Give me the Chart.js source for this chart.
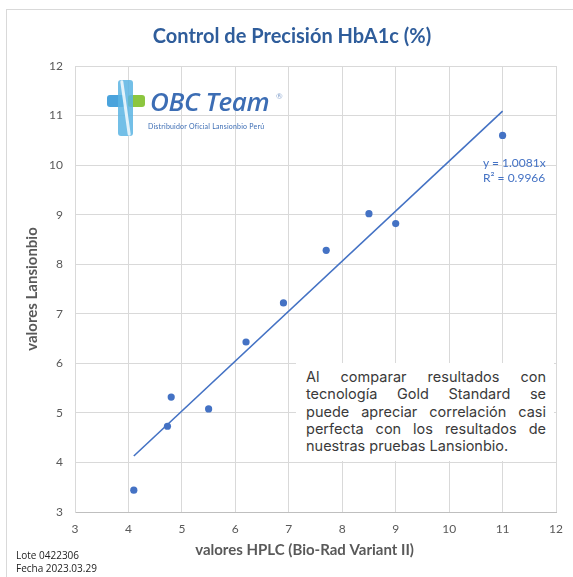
<!DOCTYPE html>
<html lang="es">
<head>
<meta charset="utf-8">
<title>Control de Precisión HbA1c (%)</title>
<script src="https://cdn.jsdelivr.net/npm/chart.js@4.4.1/dist/chart.umd.min.js"></script>
<style>
  body { margin: 0; background: #fff; }
  #wrap { position: relative; width: 573px; height: 577px; overflow: hidden; font-family: Lato, sans-serif; }
  #frame { position: absolute; left: 6px; top: 9px; width: 620px; height: 620px; border: 1px solid #d9d9d9; }
  #chart { position: absolute; left: 0; top: 0; }
  #title { position: absolute; left: 0; width: 584px; top: 23px; text-align: center;
    font-weight: bold; font-size: 20px; line-height: 24px; color: #2f5d9b; }
  #logo { position: absolute; left: 104px; top: 78px; width: 200px; height: 60px; }
  .bar { position: absolute; border-radius: 3px; }
  #logo-name { position: absolute; left: 46px; top: 5px; font-style: italic; font-weight: 600; font-size: 26px;
    color: #3c6db4; font-family: "Open Sans", sans-serif; letter-spacing: -0.4px; }
  #logo-reg { position: absolute; left: 172px; top: 13px; font-size: 8px; color: #8aa6cf; }
  #logo-sub { position: absolute; left: 44px; top: 44px; font-size: 7px; color: #3c6db4; letter-spacing: 0.2px; }
  #eq { position: absolute; left: 483px; top: 155px; font-size: 12px; line-height: 15px; color: #4472c4; }
  #note { position: absolute; left: 296px; top: 363px; width: 258px; height: 98px; background: #fff;
    padding: 5px 0 0 10px; box-sizing: border-box; }
  #note div { width: 240px; text-align: justify; text-align-last: justify;
    font-family: Inter, sans-serif; font-size: 14.5px; line-height: 17.3px; color: #3a3a3a; }
  #note div.last { text-align-last: left; }
  #lote { position: absolute; left: 16px; top: 549px; font-size: 10px; line-height: 13px; color: #222;
    font-family: "Open Sans", sans-serif; }
</style>
</head>
<body>
<div id="wrap">
  <div id="frame"></div>
  <canvas id="chart" width="573" height="577"></canvas>
  <div id="title">Control de Precisión HbA1c (%)</div>
  <div id="logo">
    <div class="bar" style="left:3px;top:17px;width:18px;height:12px;background:#4aa3dc;"></div>
    <div class="bar" style="left:24px;top:17px;width:17px;height:12px;background:#8cc63f;"></div>
    <div class="bar" style="left:14px;top:2px;width:15px;height:56px;background:#5ab4e3;opacity:0.85;"></div>
    <div class="bar" style="left:20px;top:2px;width:3px;height:56px;background:#fff;transform:rotate(-8deg);opacity:0.8;"></div>
    <div id="logo-name">OBC Team</div>
    <div id="logo-reg">®</div>
    <div id="logo-sub">Distribuidor Oficial Lansionbio Perú</div>
  </div>
  <div id="eq">y = 1.0081x<br>R² = 0.9966</div>
  <div id="note">
    <div>Al comparar resultados con</div>
    <div>tecnología Gold Standard se</div>
    <div>puede apreciar correlación casi</div>
    <div>perfecta con los resultados de</div>
    <div class="last">nuestras pruebas Lansionbio.</div>
  </div>
  <div id="lote">Lote 0422306<br>Fecha 2023.03.29</div>
</div>
<script>
  // Data
  const hplcValues = [4.1, 4.73, 4.8, 5.5, 6.2, 6.9, 7.7, 8.5, 9.0, 11.0];
  const lansionbioValues = [3.44, 4.73, 5.32, 5.08, 6.43, 7.22, 8.28, 9.02, 8.82, 10.6];
  const trendX = [4.1, 11.0];
  const trendY = [4.13, 11.09];
  const axisMin = 3;
  const axisMax = 12;
  const xTitle = "valores HPLC (Bio-Rad Variant II)";
  const yTitle = "valores Lansionbio";

  const pointColor = "#4472c4";
  const gridColor = "#d9d9d9";
  const labelColor = "#595959";

  const ctx = document.getElementById("chart");

  new Chart(ctx, {
    type: "scatter",
    data: {
      datasets: [
        {
          label: "Lansionbio",
          data: hplcValues.map((x, i) => ({ x: x, y: lansionbioValues[i] })),
          backgroundColor: pointColor,
          borderWidth: 0,
          pointRadius: 3.6,
        },
        {
          label: "Tendencia",
          type: "line",
          data: trendX.map((x, i) => ({ x: x, y: trendY[i] })),
          borderColor: pointColor,
          borderWidth: 1.6,
          pointRadius: 0,
          fill: false,
        },
      ],
    },
    options: {
      responsive: false,
      animation: false,
      layout: { padding: { top: 66, right: 12, left: 0, bottom: 0 } },
      plugins: {
        legend: { display: false },
        tooltip: { enabled: false },
      },
      scales: {
        x: {
          type: "linear",
          min: axisMin,
          max: axisMax,
          ticks: { stepSize: 1, color: labelColor, font: { family: "Lato", size: 12 }, padding: 10 },
          grid: { color: gridColor, drawTicks: false },
          border: { color: "#bfbfbf" },
          title: {
            display: true,
            // trailing spaces nudge the centred title left, as in the original
            text: xTitle + "\u00a0\u00a0\u00a0\u00a0\u00a0\u00a0",
            color: labelColor,
            font: { family: "Lato", size: 15, weight: "bold" },
            padding: { top: 0, bottom: 18 },
          },
          afterFit: (scale) => { scale.height = 65; },
        },
        y: {
          type: "linear",
          min: axisMin,
          max: axisMax,
          ticks: { stepSize: 1, color: labelColor, font: { family: "Lato", size: 12 }, padding: 12 },
          grid: { color: gridColor, drawTicks: false },
          border: { color: gridColor },
          title: {
            display: true,
            text: yTitle,
            color: labelColor,
            font: { family: "Lato", size: 15, weight: "bold" },
            padding: { top: 23, bottom: 0 },
          },
          afterFit: (scale) => { scale.width = 75; },
        },
      },
    },
  });
</script>
</body>
</html>
